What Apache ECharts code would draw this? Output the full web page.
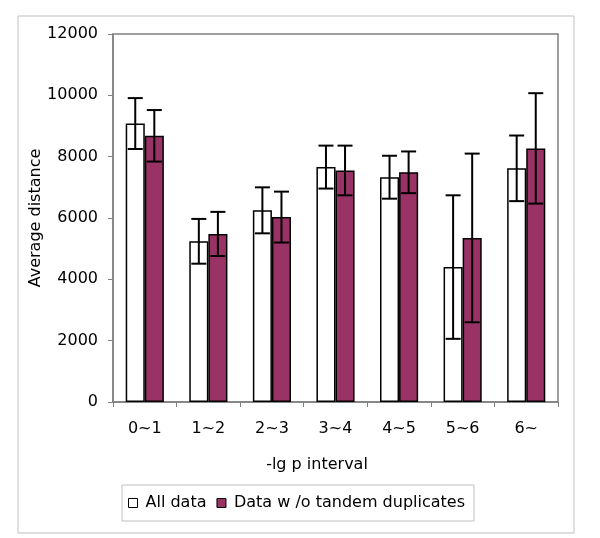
<!DOCTYPE html>
<html>
<head>
<meta charset="utf-8">
<script src="https://cdn.jsdelivr.net/npm/echarts@6/dist/echarts.min.js"></script>
<style>
html,body{margin:0;padding:0;background:#fff;}
#chart{width:600px;height:538px;}
</style>
</head>
<body>
<div id="chart"></div>
<script>
const categories = ['0~1', '1~2', '2~3', '3~4', '4~5', '5~6', '6~'];
const allMean = [9080, 5240, 6250, 7660, 7330, 4400, 7620];
const allErr  = [830, 730, 750, 700, 700, 2340, 1070];
const dupMean = [8680, 5480, 6030, 7550, 7490, 5350, 8270];
const dupErr  = [840, 720, 830, 810, 680, 2750, 1800];
const seriesNames = ['All data', 'Data w /o tandem duplicates'];
const yMin = 0, yMax = 12000, yStep = 2000;

const FONT = 'DejaVu Sans';
const chart = echarts.init(document.getElementById('chart'), null, {renderer: 'canvas'});

function errData(mean, err) {
  return mean.map((m, i) => [i, m - err[i], m + err[i]]);
}
function errRender(sign) {
  return function (params, api) {
    const x = api.value(0);
    const lo = api.coord([x, api.value(1)]);
    const hi = api.coord([x, api.value(2)]);
    const bw = api.size([1, 0])[0];
    const cx = lo[0] + sign * bw * 0.15;
    const half = 7.5;
    const style = {stroke: '#000', lineWidth: 2, fill: null};
    return {
      type: 'group',
      children: [
        {type: 'line', shape: {x1: cx, y1: hi[1], x2: cx, y2: lo[1]}, style: style},
        {type: 'line', shape: {x1: cx - half, y1: hi[1], x2: cx + half, y2: hi[1]}, style: style},
        {type: 'line', shape: {x1: cx - half, y1: lo[1], x2: cx + half, y2: lo[1]}, style: style}
      ]
    };
  };
}

const option = {
  animation: false,
  backgroundColor: '#fff',
  textStyle: {fontFamily: FONT},
  graphic: [{
    type: 'rect',
    shape: {x: 18, y: 16, width: 556, height: 517},
    style: {fill: null, stroke: '#bfbfbf', lineWidth: 1},
    silent: true,
    z: -1
  }],
  grid: {
    left: 113, top: 34, right: 42, bottom: 136,
    show: true, borderColor: '#808080', borderWidth: 1.5, backgroundColor: '#fff'
  },
  legend: {
    data: seriesNames,
    left: 122, top: 485,
    orient: 'horizontal',
    padding: [10, 9, 10, 6],
    itemGap: 10,
    itemWidth: 9, itemHeight: 9,
    icon: 'rect',
    borderColor: '#bfbfbf', borderWidth: 1,
    itemStyle: {borderWidth: 1, borderColor: '#000'},
    textStyle: {fontFamily: FONT, fontSize: 16, color: '#000', padding: [0, 0, 0, 3]}
  },
  xAxis: {
    type: 'category',
    data: categories,
    name: '-lg p interval',
    nameLocation: 'middle',
    nameGap: 55,
    nameMoveOverlap: false,
    nameTextStyle: {fontFamily: FONT, fontSize: 16, color: '#000', padding: [0, 37, 0, 0]},
    axisLine: {lineStyle: {color: '#808080', width: 1.5}},
    axisTick: {show: true, length: 5, lineStyle: {color: '#808080'}},
    axisLabel: {fontFamily: FONT, fontSize: 16, color: '#000', margin: 19}
  },
  yAxis: {
    type: 'value',
    min: yMin, max: yMax, interval: yStep,
    name: 'Average distance',
    nameLocation: 'middle',
    nameGap: 69,
    nameMoveOverlap: false,
    nameTextStyle: {fontFamily: FONT, fontSize: 16, color: '#000'},
    axisLine: {show: true, lineStyle: {color: '#808080', width: 1.5}},
    axisTick: {show: true, length: 5, lineStyle: {color: '#808080'}},
    axisLabel: {fontFamily: FONT, fontSize: 16, color: '#000', margin: 15,
      formatter: function (v) { return String(v); }},
    splitLine: {show: false}
  },
  series: [
    {
      name: seriesNames[0], type: 'bar', data: allMean,
      barGap: '0%', barCategoryGap: '40%',
      itemStyle: {color: '#ffffff', borderColor: '#000', borderWidth: 1.5}
    },
    {
      name: seriesNames[1], type: 'bar', data: dupMean,
      barGap: '0%', barCategoryGap: '40%',
      itemStyle: {color: '#993366', borderColor: '#000', borderWidth: 1.5}
    },
    {
      name: 'errAll', type: 'custom', renderItem: errRender(-1),
      data: errData(allMean, allErr), encode: {x: 0, y: [1, 2]}, z: 5, silent: true
    },
    {
      name: 'errDup', type: 'custom', renderItem: errRender(1),
      data: errData(dupMean, dupErr), encode: {x: 0, y: [1, 2]}, z: 5, silent: true
    }
  ]
};
chart.setOption(option);
</script>
</body>
</html>
